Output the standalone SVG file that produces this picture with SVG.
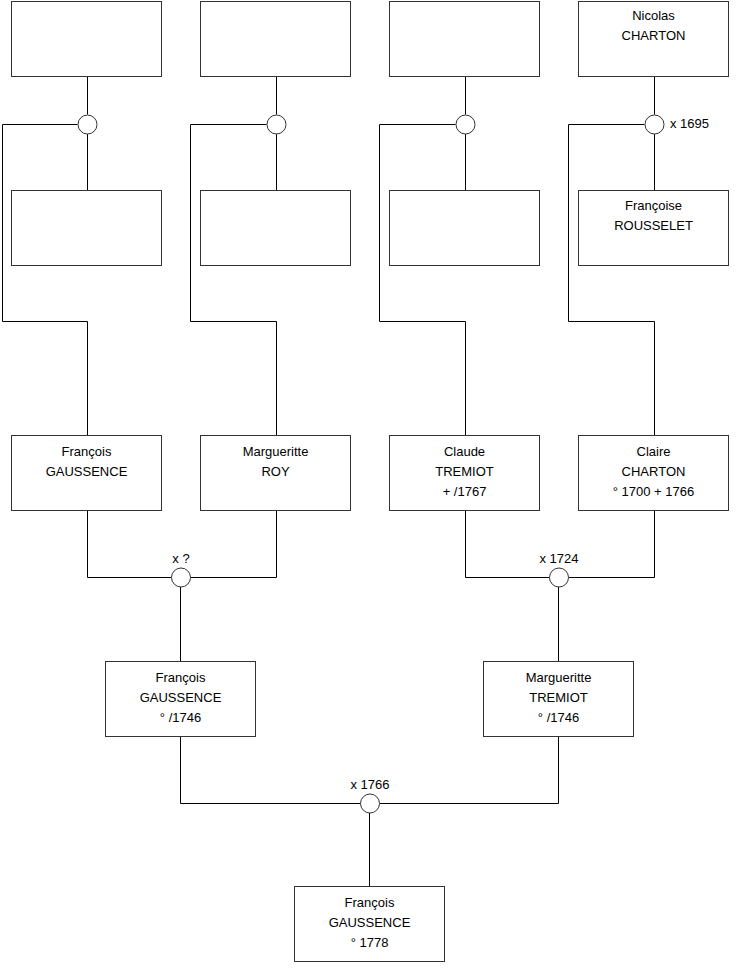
<svg xmlns="http://www.w3.org/2000/svg" width="740" height="975" viewBox="0 0 740 975">
<style>
.box{fill:#fff;stroke:#333;stroke-width:1}
.ln{fill:none;stroke:#000;stroke-width:1}
.c{fill:#fff;stroke:#333;stroke-width:1}
text{font-family:"Liberation Sans",Arial,sans-serif;font-size:13px;fill:#000}
.m{text-anchor:middle}
</style>
<rect width="740" height="975" fill="#fff"/>
<g id="connectors">
<path class="ln" d="M87.5 76V114.5M87.5 133.5V190M77.5 124.5H2.5V321.5H87.5V435"/>
<path class="ln" d="M276.5 76V114.5M276.5 133.5V190M266.5 124.5H190.5V321.5H276.5V435"/>
<path class="ln" d="M465.5 76V114.5M465.5 133.5V190M455.5 124.5H379.5V321.5H465.5V435"/>
<path class="ln" d="M654.5 76V114.5M654.5 133.5V190M644.5 124.5H568.5V321.5H654.5V435"/>
<path class="ln" d="M87.5 510V577.5H171.5M276.5 510V577.5H190.5M180.5 587V661"/>
<path class="ln" d="M465.5 510V577.5H549.5M654.5 510V577.5H568.5M558.5 587V661"/>
<path class="ln" d="M180.5 737V803.5H360.5M558.5 737V803.5H379.5M369.5 813V886"/>
<circle class="c" cx="87.5" cy="124.5" r="9.5"/>
<circle class="c" cx="276.5" cy="124.5" r="9.5"/>
<circle class="c" cx="465.5" cy="124.5" r="9.5"/>
<circle class="c" cx="654.5" cy="124.5" r="9.5"/>
<circle class="c" cx="181" cy="577.5" r="9.5"/>
<circle class="c" cx="559" cy="577.5" r="9.5"/>
<circle class="c" cx="370" cy="803.5" r="9.5"/>
<text x="670" y="128">x 1695</text>
<text class="m" x="181" y="563">x ?</text>
<text class="m" x="559" y="563">x 1724</text>
<text class="m" x="370" y="789">x 1766</text>
</g>
<g id="n1"><rect class="box" x="11.5" y="1.5" width="150" height="75"/></g>
<g id="n2"><rect class="box" x="200.5" y="1.5" width="150" height="75"/></g>
<g id="n3"><rect class="box" x="389.5" y="1.5" width="150" height="75"/></g>
<g id="n4"><rect class="box" x="578.5" y="1.5" width="150" height="75"/><text class="m" x="653.5" y="20">Nicolas</text><text class="m" x="653.5" y="40">CHARTON</text></g>
<g id="n5"><rect class="box" x="11.5" y="190.5" width="150" height="75"/></g>
<g id="n6"><rect class="box" x="200.5" y="190.5" width="150" height="75"/></g>
<g id="n7"><rect class="box" x="389.5" y="190.5" width="150" height="75"/></g>
<g id="n8"><rect class="box" x="578.5" y="190.5" width="150" height="75"/><text class="m" x="653.5" y="210">Françoise</text><text class="m" x="653.5" y="230">ROUSSELET</text></g>
<g id="n9"><rect class="box" x="11.5" y="435.5" width="150" height="75"/><text class="m" x="86.5" y="456">François</text><text class="m" x="86.5" y="476">GAUSSENCE</text></g>
<g id="n10"><rect class="box" x="200.5" y="435.5" width="150" height="75"/><text class="m" x="275.5" y="456">Margueritte</text><text class="m" x="275.5" y="476">ROY</text></g>
<g id="n11"><rect class="box" x="389.5" y="435.5" width="150" height="75"/><text class="m" x="464.5" y="456">Claude</text><text class="m" x="464.5" y="476">TREMIOT</text><text class="m" x="464.5" y="496">+ /1767</text></g>
<g id="n12"><rect class="box" x="578.5" y="435.5" width="150" height="75"/><text class="m" x="653.5" y="456">Claire</text><text class="m" x="653.5" y="476">CHARTON</text><text class="m" x="653.5" y="496">° 1700 + 1766</text></g>
<g id="n13"><rect class="box" x="105.5" y="661.5" width="150" height="75"/><text class="m" x="180.5" y="682">François</text><text class="m" x="180.5" y="702">GAUSSENCE</text><text class="m" x="180.5" y="722">° /1746</text></g>
<g id="n14"><rect class="box" x="483.5" y="661.5" width="150" height="75"/><text class="m" x="558.5" y="682">Margueritte</text><text class="m" x="558.5" y="702">TREMIOT</text><text class="m" x="558.5" y="722">° /1746</text></g>
<g id="n15"><rect class="box" x="294.5" y="886.5" width="150" height="75"/><text class="m" x="369.5" y="907">François</text><text class="m" x="369.5" y="927">GAUSSENCE</text><text class="m" x="369.5" y="947">° 1778</text></g>
</svg>
